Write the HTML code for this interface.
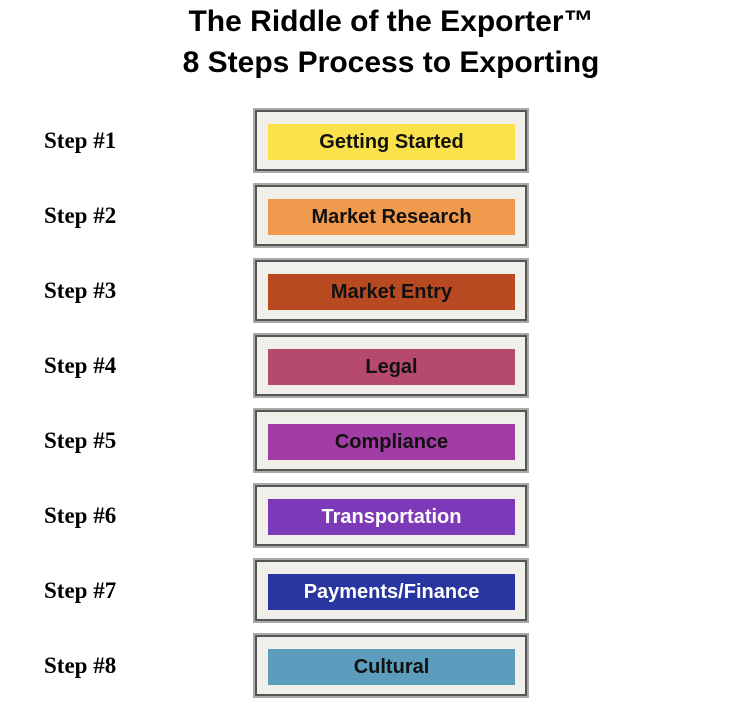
<!DOCTYPE html>
<html><head><style>
body{margin:0;width:745px;height:717px;background:#fff;position:relative;overflow:hidden;font-family:"Liberation Sans",sans-serif}
.t{position:absolute;left:0;width:782px;text-align:center;font-weight:bold;font-size:30px;color:#000}
.s{position:absolute;left:44px;font-family:"Liberation Serif",serif;font-weight:bold;font-size:23px}
.f{position:absolute;left:253px;width:272px;height:61px;background:#f0efea;border:2px solid #aaa;box-shadow:inset 0 0 0 2px #555}
.b{position:absolute;left:13px;top:14px;width:247px;height:36px;text-align:center;line-height:36px;font-weight:bold;font-size:20px;color:#111}
</style></head><body>
<div class="t" style="top:5px">The Riddle of the Exporter™</div>
<div class="t" style="top:46px">8 Steps Process to Exporting</div>

<div class="s" style="top:128px">Step #1</div>
<div class="f" style="top:108px"><div class="b" style="background:#fbe14a">Getting Started</div></div>
<div class="s" style="top:203px">Step #2</div>
<div class="f" style="top:183px"><div class="b" style="background:#f09a4e">Market Research</div></div>
<div class="s" style="top:278px">Step #3</div>
<div class="f" style="top:258px"><div class="b" style="background:#b84a22">Market Entry</div></div>
<div class="s" style="top:353px">Step #4</div>
<div class="f" style="top:333px"><div class="b" style="background:#b64a6e">Legal</div></div>
<div class="s" style="top:428px">Step #5</div>
<div class="f" style="top:408px"><div class="b" style="background:#a23da6">Compliance</div></div>
<div class="s" style="top:503px">Step #6</div>
<div class="f" style="top:483px"><div class="b" style="background:#7d3ab8;color:#fff">Transportation</div></div>
<div class="s" style="top:578px">Step #7</div>
<div class="f" style="top:558px"><div class="b" style="background:#2a36a0;color:#fff">Payments/Finance</div></div>
<div class="s" style="top:653px">Step #8</div>
<div class="f" style="top:633px"><div class="b" style="background:#5c9cbc">Cultural</div></div>
</body></html>
